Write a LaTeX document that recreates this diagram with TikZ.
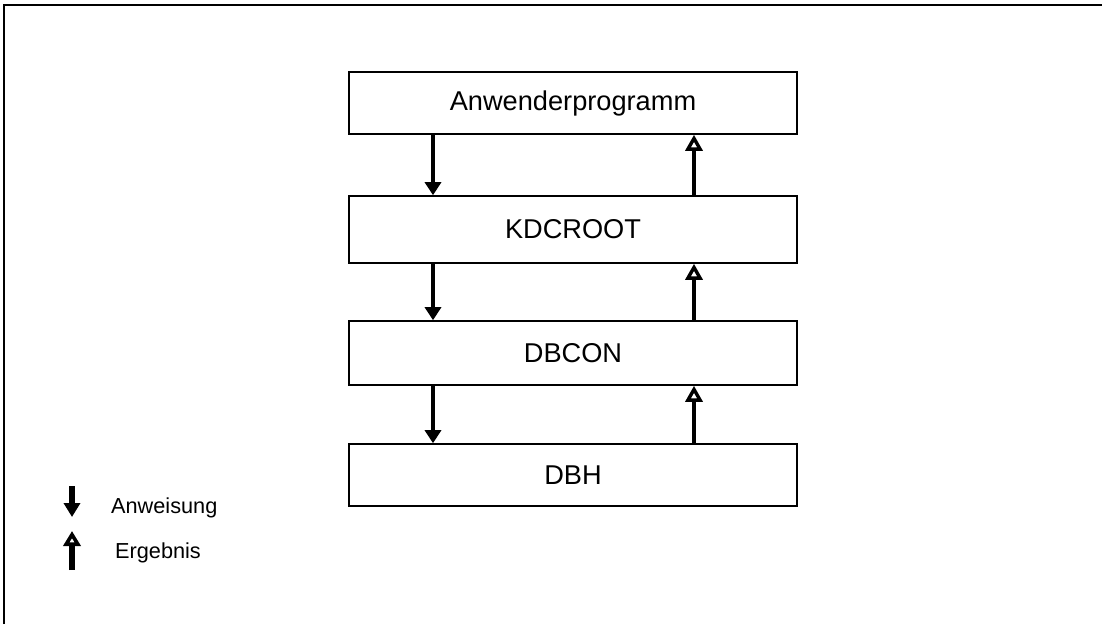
\documentclass[tikz,border=0pt]{standalone}
\usepackage{fontspec}
\setmainfont{Liberation Sans}
\usetikzlibrary{arrows.meta}
\begin{document}
\begin{tikzpicture}[x=1pt,y=-1pt,
  layer/.style={draw=black, line width=1.6pt, minimum width=448pt, inner sep=0pt, font=\fontsize{27.2}{30}\selectfont, fill=white},
  downarr/.style={line width=4pt, -{Triangle[width=16pt,length=13pt]}},
  uparr/.style={line width=4pt, -{Triangle[open,fill=white,width=17pt,length=16pt,line width=3.4pt]}},
  legdown/.style={line width=6pt, -{Triangle[width=16pt,length=14pt]}},
  legup/.style={line width=6pt, -{Triangle[open,fill=white,width=17pt,length=15pt,line width=3.6pt]}},
  legtext/.style={font=\fontsize{21.7}{24}\selectfont, anchor=west, inner sep=0pt}]
\useasboundingbox (0,0) rectangle (1102,624);
\draw[line width=1.8pt] (4,624) -- (4,5) -- (1102,5);
% boxes
\node[layer, minimum height=62pt] (a) at (573,103) {Anwenderprogramm};
\node[layer, minimum height=67pt] (k) at (573,229.5) {KDCROOT};
\node[layer, minimum height=64pt] (c) at (573,353) {DBCON};
\node[layer, minimum height=62pt] (h) at (573,475) {DBH};
% arrows
\foreach \u/\l in {a/k,k/c,c/h}{
  \draw[downarr] (\u.south -| 433,0) -- (\l.north -| 433,0);
  \draw[uparr] (\l.north -| 694,0) -- (\u.south -| 694,0);
}
% legend
\coordinate (d1) at (72,486);
\coordinate (d2) at (72,517);
\coordinate (u1) at (72,570);
\coordinate (u2) at (72,531);
\draw[legdown] (d1) -- (d2);
\draw[legup] (u1) -- (u2);
\node[legtext] (t1) at (111,508) {Anweisung};
\node[legtext] (t2) at (115,553) {Ergebnis};
\end{tikzpicture}
\end{document}
